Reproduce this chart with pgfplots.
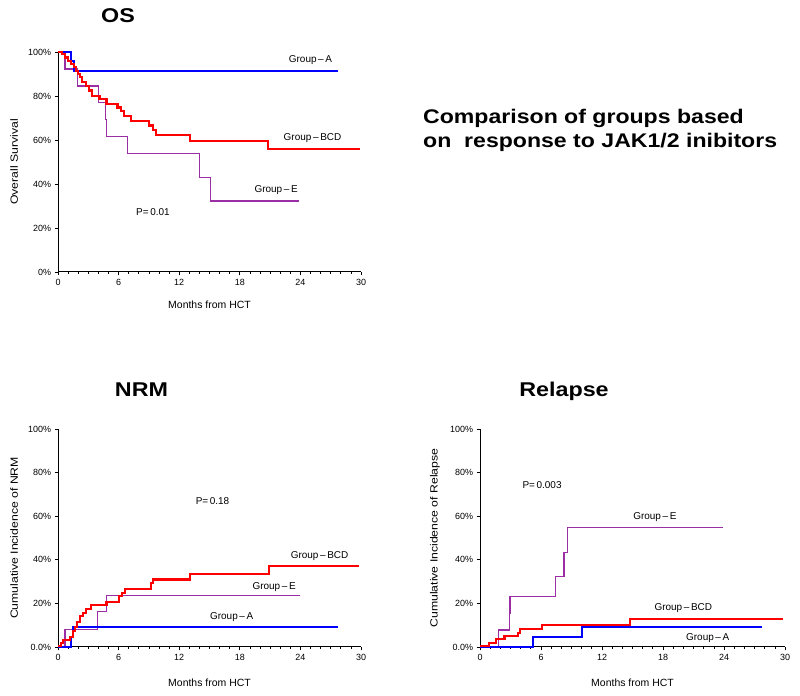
\documentclass[border=0pt]{standalone}
\usepackage{fontspec}
\setmainfont{Liberation Sans}
\newfontfamily\wideF{Liberation Sans}[FakeStretch=1.17]
\usepackage{pgfplots}
\pgfplotsset{compat=1.18}
\definecolor{gA}{RGB}{0,0,255}
\definecolor{gB}{RGB}{255,0,0}
\definecolor{gE}{RGB}{155,45,165}
\tikzset{txt/.style={font=\fontsize{10}{11}\selectfont, anchor=center}}
\pgfplotsset{
  km/.style={
    scale only axis,
    axis x line*=bottom, axis y line*=left,
    axis line style={line width=1pt},
    xmin=0, xmax=30, ymin=0, ymax=100,
    xtick={0,6,...,30}, minor x tick num=5,
    ytick={0,20,...,100},
    tick align=outside,
    major tick length=3.5pt, minor tick length=2pt,
    tick style={black, line width=0.7pt},
    /pgf/number format/assume math mode=true,
    tick label style={font=\fontsize{9}{10}\selectfont},
    xlabel={Months from HCT},
    xlabel style={font=\fontsize{10.5}{11}\selectfont},
    ylabel style={font=\wideF\fontsize{10.5}{11}\selectfont},
    clip=false,
    every axis plot/.append style={const plot, no marks},
  },
  lA/.style={color=gA, line width=1.8pt},
  lB/.style={color=gB, line width=2.2pt},
  lE/.style={color=gE, line width=1.3pt},
}
\begin{document}
\begin{tikzpicture}[x=1bp,y=1bp]
\path (0,0) rectangle (800,696);
% ---------- OS ----------
\begin{axis}[km, at={(58bp,424bp)}, anchor=origin, width=303bp, height=220bp,
  yticklabels={0\%,20\%,40\%,60\%,80\%,100\%},
  ylabel={Overall Survival},
  ylabel style={at={(axis description cs:-0.145,0.5)}, anchor=center},
  xlabel style={at={(axis description cs:0.5,-0.15)}, anchor=center},
]
\addplot[lE] coordinates {(0,100)(0.7,92.3)(1.9,84.6)(4.0,76.9)(4.7,69.2)(4.8,61.5)(6.9,53.8)(14.0,43.1)(15.1,32.3)(23.9,32.3)};
\addplot[lA] coordinates {(0,100)(1.3,95.8)(1.6,91.5)(27.7,91.5)};
\addplot[lB] coordinates {(0,100)(0.4,99)(0.7,97.5)(1.0,96)(1.3,94.5)(1.6,93)(1.8,91.5)(2.0,90)(2.2,88.5)(2.4,86.5)(2.8,84.5)(3.1,82.5)(3.4,80)(4.1,78.5)(4.8,76.5)(5.9,74.8)(6.2,73)(6.5,71)(7.2,68.8)(9.0,66.6)(9.4,64.6)(9.7,62.3)(13.1,59.5)(20.8,55.9)(29.9,55.9)};
\node[txt] at (axis cs:25.0,96.4) {Group\,--\,A};
\node[txt] at (axis cs:25.2,61) {Group\,--\,BCD};
\node[txt] at (axis cs:21.6,37.3) {Group\,--\,E};
\node[txt] at (axis cs:9.4,27.3) {P{=}\,0.01};
\end{axis}
% ---------- NRM ----------
\begin{axis}[km, at={(58bp,49bp)}, anchor=origin, width=303bp, height=218bp,
  yticklabels={0.0\%,20\%,40\%,60\%,80\%,100\%},
  ylabel={Cumulative Incidence of NRM},
  ylabel style={at={(axis description cs:-0.145,0.5)}, anchor=center},
  xlabel style={at={(axis description cs:0.5,-0.165)}, anchor=center},
]
\addplot[lE] coordinates {(0,0)(0.7,8.1)(3.9,16.2)(4.8,23.5)(24.0,23.5)};
\addplot[lA] coordinates {(0,0)(1.3,4.7)(1.5,9.0)(27.7,9.0)};
\addplot[lB] coordinates {(0,0.5)(0.3,1.7)(0.5,3.2)(1.2,4.7)(1.5,7.5)(1.7,9.2)(1.9,11.6)(2.2,14.2)(2.5,15.7)(2.8,17.3)(3.3,19.3)(4.8,20.8)(6.0,23.4)(6.3,24.6)(6.6,26.5)(9.2,29.5)(9.4,31)(13.1,33.3)(20.9,37.3)(29.8,37.3)};
\node[txt] at (axis cs:15.3,67.1) {P{=}\,0.18};
\node[txt] at (axis cs:25.9,41.7) {Group\,--\,BCD};
\node[txt] at (axis cs:21.4,27.4) {Group\,--\,E};
\node[txt] at (axis cs:17.2,13.6) {Group\,--\,A};
\end{axis}
% ---------- Relapse ----------
\begin{axis}[km, at={(480bp,49bp)}, anchor=origin, width=305bp, height=218bp,
  yticklabels={0.0\%,20\%,40\%,60\%,80\%,100\%},
  ylabel={Cumulative Incidence of Relapse},
  ylabel style={at={(axis description cs:-0.148,0.5)}, anchor=center},
  xlabel style={at={(axis description cs:0.5,-0.165)}, anchor=center},
]
\addplot[lE] coordinates {(0,0)(1.8,7.8)(2.9,15.5)(2.95,23.2)(7.44,32.3)(8.26,43.4)(8.6,54.9)(23.9,54.9)};
\addplot[lA] coordinates {(0,0)(5.2,4.7)(10.0,9.0)(27.7,9.0)};
\addplot[lB] coordinates {(0,0.5)(0.85,2)(1.6,3.5)(2.4,5)(3.7,6.3)(3.9,8.1)(6.1,10.1)(14.75,13)(29.8,13)};
\node[txt] at (axis cs:6.1,74.3) {P{=}\,0.003};
\node[txt] at (axis cs:17.2,59.8) {Group\,--\,E};
\node[txt] at (axis cs:20.0,17.7) {Group\,--\,BCD};
\node[txt] at (axis cs:22.4,4) {Group\,--\,A};
\end{axis}
% ---------- titles ----------
\node[font=\wideF\fontsize{20}{22}\selectfont\bfseries, anchor=base] at (118,673.3) {OS};
\node[font=\wideF\fontsize{20}{22}\selectfont\bfseries, anchor=base] at (141.5,299.3) {NRM};
\node[font=\wideF\fontsize{20}{22}\selectfont\bfseries, anchor=base] at (564,299.3) {Relapse};
\node[font=\wideF\fontsize{19.8}{25}\selectfont\bfseries, align=left, anchor=base west, inner sep=0pt] at (423,548)
  {Comparison of groups based\\on\ \ response to JAK1/2 inibitors};
\end{tikzpicture}
\end{document}
